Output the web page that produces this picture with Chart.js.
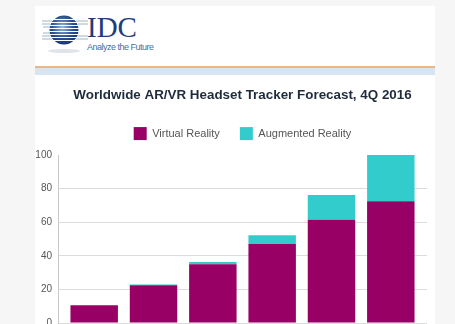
<!DOCTYPE html>
<html>
<head>
<meta charset="utf-8">
<script src="https://cdn.jsdelivr.net/npm/chart.js@4/dist/chart.umd.min.js"></script>
<style>
  html, body { margin: 0; padding: 0; }
  body { width: 455px; height: 324px; overflow: hidden; background: #f6f6f6; position: relative; font-family: "Liberation Sans", Arial, sans-serif; }
  #panel { position: absolute; left: 35px; top: 6px; width: 400px; height: 330px; background: #fff; }
  #logo { position: absolute; left: 40px; top: 12px; }
  #idc { position: absolute; left: 87px; top: 13px; line-height: 1; font-family: "Liberation Serif", "Times New Roman", serif; font-size: 29px; color: #1f3c7c; }
  #tag { position: absolute; left: 87px; top: 43px; line-height: 1; font-family: "Liberation Sans Narrow", "Liberation Sans", Arial, sans-serif; font-size: 9px; color: #3f6fa3; letter-spacing: -0.5px; }
  #rule1 { position: absolute; left: 35px; top: 66px; width: 400px; height: 2px; background: #e9b889; }
  #rule2 { position: absolute; left: 35px; top: 68px; width: 400px; height: 7px; background: #d7e4f1; }
  #wrap { position: absolute; left: 0; top: 78px; width: 455px; height: 262px; }
</style>
</head>
<body>
<div id="panel"></div>
<svg id="logo" width="50" height="44" viewBox="0 0 50 44">
  <defs>
    <radialGradient id="g" cx="0.45" cy="0.4" r="0.65">
      <stop offset="0" stop-color="#9dbbe0"/>
      <stop offset="0.55" stop-color="#2c5296"/>
      <stop offset="1" stop-color="#15306a"/>
    </radialGradient>
  </defs>
  <ellipse cx="24" cy="39" rx="16" ry="2" fill="#dfe3ea"/>
  <circle cx="24" cy="18" r="14.5" fill="url(#g)"/>
  <g stroke="#fff" stroke-width="1.2">
    <line x1="0" y1="7.5" x2="50" y2="7.5"/>
    <line x1="0" y1="10.5" x2="50" y2="10.5"/>
    <line x1="0" y1="13.5" x2="50" y2="13.5"/>
    <line x1="0" y1="16.5" x2="50" y2="16.5"/>
    <line x1="0" y1="19.5" x2="50" y2="19.5"/>
    <line x1="0" y1="22.5" x2="50" y2="22.5"/>
    <line x1="0" y1="25.5" x2="50" y2="25.5"/>
    <line x1="0" y1="28.5" x2="50" y2="28.5"/>
  </g>
  <g stroke="#a3b3ca" stroke-width="1">
    <line x1="2" y1="9" x2="12" y2="9"/>
    <line x1="2" y1="12" x2="10" y2="12"/>
    <line x1="3" y1="15" x2="10" y2="15"/>
    <line x1="3" y1="21" x2="10" y2="21"/>
    <line x1="2" y1="24" x2="10" y2="24"/>
    <line x1="2" y1="27" x2="12" y2="27"/>
    <line x1="36" y1="9" x2="48" y2="9"/>
    <line x1="38" y1="12" x2="48" y2="12"/>
    <line x1="38" y1="24" x2="48" y2="24"/>
    <line x1="36" y1="27" x2="48" y2="27"/>
  </g>
</svg>
<div id="idc">IDC</div>
<div id="tag">Analyze the Future</div>
<div id="rule1"></div>
<div id="rule2"></div>
<div id="wrap"><canvas id="canva1" width="455" height="262"></canvas></div>

<script>
// dados do grafico (em milhoes de unidades)
var anos = ['2016', '2017', '2018', '2019', '2020', '2021'];
var realidade_virtual = [10.5, 22.5, 35, 47, 61.5, 72.5];
var realidade_aumentada = [0, 0.4, 1.4, 5.3, 14.8, 27.5];
var ticks_y = [0, 20, 40, 60, 80, 100];

var cor_vr = '#990066';
var cor_ar = '#33cccc';
var fonte = '"Liberation Sans", Arial, sans-serif';

// espaco extra abaixo da legenda
var espacoLegenda = {
    id: 'espacoLegenda',
    beforeInit: function (chart) {
        var fitOriginal = chart.legend.fit;
        chart.legend.fit = function () {
            fitOriginal.call(this);
            this.height += 5;
        };
    }
};

var ctx = document.getElementById('canva1').getContext('2d');
var myChart1 = new Chart(ctx, {
    type: 'bar',
    data: {
        datasets: [{
            label: 'Virtual Reality',
            data: realidade_virtual.map(function (v, i) { return { x: i, y: v }; }),
            backgroundColor: cor_vr,
            borderWidth: 0,
            barPercentage: 0.8,
            categoryPercentage: 1
        }, {
            label: 'Augmented Reality',
            data: realidade_aumentada.map(function (v, i) { return { x: i, y: v }; }),
            backgroundColor: cor_ar,
            borderWidth: 0,
            barPercentage: 0.8,
            categoryPercentage: 1
        }]
    },
    plugins: [espacoLegenda],
    options: {
        responsive: false,
        animation: false,
        layout: { padding: { left: 0, right: 28, top: 0, bottom: 17 } },
        plugins: {
            title: {
                display: true,
                fullSize: false,
                text: 'Worldwide AR/VR Headset Tracker Forecast, 4Q 2016',
                color: '#1e2b3c',
                font: { family: fonte, size: 13.4, weight: 'bold' },
                padding: { top: 9, bottom: 4 }
            },
            legend: {
                display: true,
                fullSize: false,
                labels: {
                    boxWidth: 13,
                    boxHeight: 13,
                    padding: 20,
                    color: '#555',
                    font: { family: fonte, size: 11 }
                }
            },
            tooltip: { enabled: false }
        },
        scales: {
            x: {
                type: 'linear',
                stacked: true,
                display: false,
                offset: false,
                min: -0.61,
                max: anos.length - 1 + 0.61
            },
            y: {
                stacked: true,
                min: 0,
                max: 100,
                afterFit: function (s) { s.width = 58; },
                afterBuildTicks: function (s) { s.ticks = ticks_y.map(function (v) { return { value: v }; }); },
                border: { display: true, color: '#c8c8c8' },
                grid: {
                    drawTicks: false,
                    color: function (c) { return c.tick && c.tick.value === 100 ? 'rgba(0,0,0,0)' : '#dcdcdc'; }
                },
                ticks: {
                    padding: 6,
                    color: '#555',
                    font: { family: fonte, size: 10 }
                }
            }
        }
    }
});
</script>
</body>
</html>
